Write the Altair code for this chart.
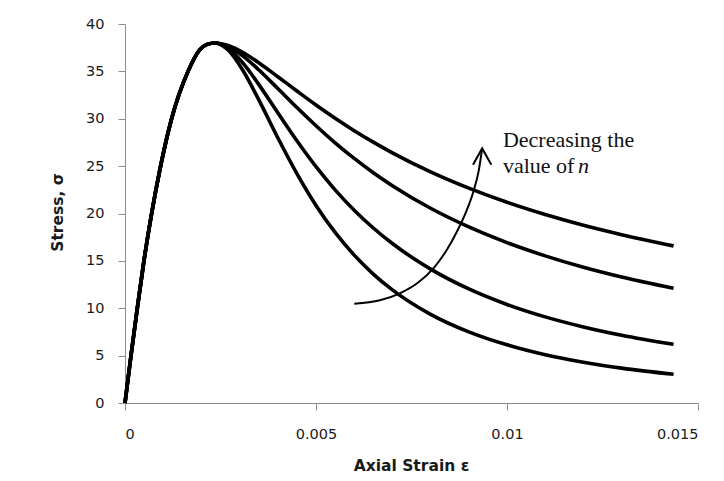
import altair as alt
import pandas as pd

# ---- data (strain in absolute units, stress) ----
rise_strain = [0.0, 0.000157, 0.000322, 0.000496, 0.000697, 0.000932, 0.00122, 0.00165, 0.00196, 0.00215]
rise_stress = [0.0, 5.0, 10.0, 15.0, 20.0, 25.0, 30.0, 35.0, 37.3, 37.85]

fall_strain = [0.00235, 0.0027, 0.0031, 0.0035, 0.0040, 0.0045, 0.0050, 0.0055, 0.0060,
               0.0065, 0.0070, 0.0080, 0.0090, 0.0100, 0.0110, 0.0120, 0.0130, 0.01436]
curve_a = [38.0, 37.73, 36.96, 35.91, 34.44, 32.93, 31.45, 30.05, 28.74, 27.53, 26.40, 24.39, 22.67, 21.18, 19.89, 18.76, 17.77, 16.58]
curve_b = [38.0, 37.64, 36.59, 35.17, 33.19, 31.18, 29.26, 27.46, 25.81, 24.30, 22.93, 20.55, 18.58, 16.93, 15.53, 14.33, 13.30, 12.11]
curve_c = [38.0, 37.45, 35.82, 33.63, 30.63, 27.67, 24.94, 22.50, 20.35, 18.47, 16.83, 14.13, 12.04, 10.40, 9.09, 8.03, 7.15, 6.19]
curve_d = [38.0, 37.25, 35.01, 32.01, 27.99, 24.20, 20.85, 18.00, 15.61, 13.61, 11.94, 9.36, 7.51, 6.14, 5.10, 4.31, 3.68, 3.03]
series_names = ["a", "b", "c", "d"]

x_ticks = [0, 0.005, 0.01, 0.015]
y_ticks = [0, 5, 10, 15, 20, 25, 30, 35, 40]

# annotation (in data coordinates)
arrow_strain = [0.006003, 0.006671, 0.007195, 0.007666, 0.008085, 0.008426, 0.008714, 0.008950, 0.009133, 0.009264, 0.009350]
arrow_stress = [10.47, 10.84, 11.58, 12.69, 14.27, 16.17, 18.28, 20.38, 22.49, 24.60, 26.87]
head_strain = [0.009110, 0.009350, 0.009590]
head_stress = [25.15, 26.87, 25.15]
note_lines = ["Decreasing the", "value of"]
note_strain = [0.009893, 0.009893]
note_stress = [27.06, 24.29]
note_italic = ["n"]
note_italic_strain = [0.011860]
note_italic_stress = [24.29]

rows = []
for name, fall in zip(series_names, [curve_a, curve_b, curve_c, curve_d]):
    for e, s in zip(rise_strain, rise_stress):
        rows.append({"series": name, "strain": e, "stress": s})
    for e, s in zip(fall_strain, fall):
        rows.append({"series": name, "strain": e, "stress": s})
df = pd.DataFrame(rows)

arrow_df = pd.DataFrame({"strain": arrow_strain, "stress": arrow_stress, "i": list(range(len(arrow_strain)))})
head_df = pd.DataFrame({"strain": head_strain, "stress": head_stress, "i": list(range(len(head_strain)))})
note_df = pd.DataFrame({"strain": note_strain, "stress": note_stress, "label": note_lines})
ital_df = pd.DataFrame({"strain": note_italic_strain, "stress": note_italic_stress, "label": note_italic})

axis_common = dict(grid=False, domainColor="#8c8c8c", tickColor="#8c8c8c", tickSize=7,
                   labelFont="DejaVu Sans", labelFontSize=14.5, labelColor="#1a1a1a",
                   titleFont="DejaVu Sans", titleFontSize=15.5, titleFontWeight="bold", titleColor="#1a1a1a")

x_enc = alt.X("strain:Q", scale=alt.Scale(domain=[0, 0.015], nice=False, zero=True),
              axis=alt.Axis(values=x_ticks, labelExpr="datum.value == 0 ? '0' : format(datum.value, '.3~f')",
                            title="Axial Strain ε",
                            labelPadding=17, titleX=286, titleY=62, titleAnchor="middle",
                            titleAlign="center", titleBaseline="middle", **axis_common))
y_enc = alt.Y("stress:Q", scale=alt.Scale(domain=[0, 40], nice=False),
              axis=alt.Axis(values=y_ticks, format="d", title="Stress, σ", labelPadding=14,
                            titleX=-68, titleY=188, titleAngle=270, titleAlign="center",
                            titleBaseline="middle", **axis_common))

curves = alt.Chart(df).mark_line(interpolate="monotone", strokeWidth=3.6, color="black").encode(
    x=x_enc, y=y_enc, detail="series:N")

arrow = alt.Chart(arrow_df).mark_line(interpolate="monotone", strokeWidth=2, color="black").encode(
    x=x_enc, y=y_enc, order="i:Q")
head = alt.Chart(head_df).mark_line(strokeWidth=2, color="black").encode(
    x=x_enc, y=y_enc, order="i:Q")
notes = alt.Chart(note_df).mark_text(align="left", baseline="alphabetic", font="Liberation Serif",
                                     fontSize=22, color="#111111").encode(x=x_enc, y=y_enc, text="label:N")
ital = alt.Chart(ital_df).mark_text(align="left", baseline="alphabetic", font="Liberation Serif",
                                    fontSize=22, fontStyle="italic", color="#111111").encode(x=x_enc, y=y_enc, text="label:N")

chart = alt.layer(curves, arrow, head, notes, ital).properties(
    width=573, height=379,
    padding={"left": 125, "top": 24, "right": 26, "bottom": 78},
    autosize=alt.AutoSizeParams(type="none"),
    background="white",
).configure_view(strokeWidth=0)

chart.save("out.html", embed_options={"renderer": "svg", "actions": False})
